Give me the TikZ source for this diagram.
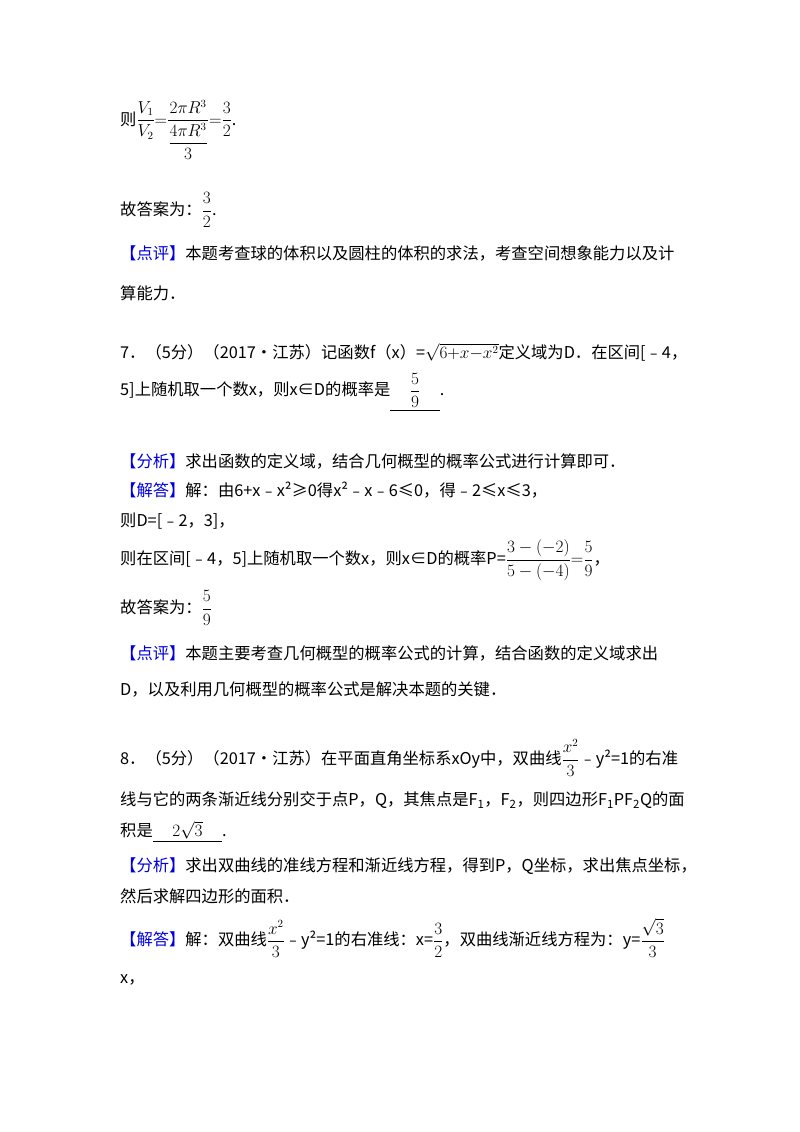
\documentclass[tikz,border=0pt]{standalone}
\usepackage{fontspec}
\setmainfont{Noto Sans CJK SC}
\usepackage{amsmath}
\definecolor{bl}{RGB}{0,0,220}
\newcommand{\bk}[1]{\textcolor{bl}{【#1】}}
\newcommand{\blank}[1]{\underline{\hspace{1.2em}#1\hspace{1.2em}}}
\newcommand{\sbs}[1]{\textsubscript{#1}}
\begin{document}
\begin{tikzpicture}[x=1pt,y=1pt]
\tikzset{ln/.style={anchor=west,inner sep=0pt,font=\fontsize{16.3}{19}\selectfont}}
\useasboundingbox[fill=white] (0,0) rectangle (800,-1132);
\node[ln] (l1) at (120,-130) {则$\dfrac{V_1}{V_2}{=}\dfrac{2\pi R^3}{\dfrac{4\pi R^3}{3}}{=}\dfrac{3}{2}$.};
\node[ln] (l2) at (120,-210) {故答案为：$\dfrac{3}{2}$.};
\node[ln] (l3) at (120,-253) {\bk{点评}本题考查球的体积以及圆柱的体积的求法，考查空间想象能力以及计};
\node[ln] (l4) at (120,-293) {算能力．};
\node[ln] (l5) at (120,-352) {7．（5分）（2017•江苏）记函数f（x）=$\sqrt{6{+}x{-}x^2}$定义域为D．在区间[﹣4，};
\node[ln] (l6) at (120,-392) {5]上随机取一个数x，则x∈D的概率是\blank{$\dfrac{5}{9}$}.};
\node[ln] (l7) at (120,-461) {\bk{分析}求出函数的定义域，结合几何概型的概率公式进行计算即可．};
\node[ln] (l8) at (120,-490) {\bk{解答}解：由6+x﹣x²≥0得x²﹣x﹣6≤0，得﹣2≤x≤3，};
\node[ln] (l9) at (120,-521) {则D=[﹣2，3]，};
\node[ln] (l10) at (120,-560) {则在区间[﹣4，5]上随机取一个数x，则x∈D的概率P=$\dfrac{3-(-2)}{5-(-4)}{=}\dfrac{5}{9}$，};
\node[ln] (l11) at (120,-608) {故答案为：$\dfrac{5}{9}$};
\node[ln] (l12) at (120,-653) {\bk{点评}本题主要考查几何概型的概率公式的计算，结合函数的定义域求出};
\node[ln] (l13) at (120,-689) {D，以及利用几何概型的概率公式是解决本题的关键．};
\node[ln] (l14) at (120,-758) {8．（5分）（2017•江苏）在平面直角坐标系xOy中，双曲线$\dfrac{x^2}{3}$﹣y²=1的右准};
\node[ln] (l15) at (120,-800) {线与它的两条渐近线分别交于点P，Q，其焦点是F\sbs{1}，F\sbs{2}，则四边形F\sbs{1}PF\sbs{2}Q的面};
\node[ln] (l16) at (120,-832) {积是\blank{$2\sqrt{3}$}.};
\node[ln] (l17) at (120,-866) {\bk{分析}求出双曲线的准线方程和渐近线方程，得到P，Q坐标，求出焦点坐标，};
\node[ln] (l18) at (120,-896) {然后求解四边形的面积．};
\node[ln] (l19) at (120,-938) {\bk{解答}解：双曲线$\dfrac{x^2}{3}$﹣y²=1的右准线：x=$\dfrac{3}{2}$，双曲线渐近线方程为：y=$\dfrac{\sqrt{3}}{3}$};
\node[ln] (l20) at (120,-980) {x，};
\end{tikzpicture}
\end{document}
